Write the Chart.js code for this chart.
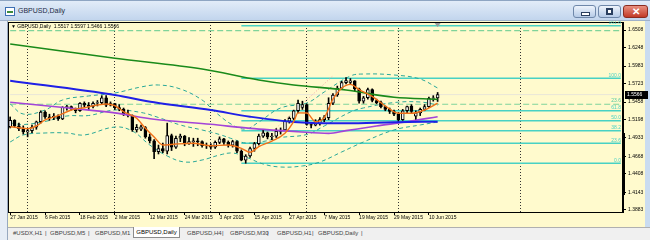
<!DOCTYPE html>
<html>
<head>
<meta charset="utf-8">
<title>GBPUSD,Daily</title>
<script src="https://cdn.jsdelivr.net/npm/chart.js@4.4.1/dist/chart.umd.min.js"></script>
<style>
  html, body { margin: 0; padding: 0; }
  body { width: 650px; height: 240px; overflow: hidden; position: relative; background: #d3dfee; font-family: "Liberation Sans", Arial, sans-serif; }
  .abs { position: absolute; }
  #left-strip  { left: 0; top: 21px; width: 7px; height: 219px; background: #e6edf6; border-right: 1px solid #98a9bf; }
  #pane        { left: 8px; top: 21px; width: 637px; height: 206px; background: #fffacd; }
  #right-strip { left: 645px; top: 21px; width: 5px; height: 219px; background: #cadcf0; }
  #scroll-mark { left: 623px; top: 133px; width: 2px; height: 62px; background: #000; z-index: 2; }
  canvas { position: absolute; left: 0; top: 0; z-index: 1; }

  #titlebar { left: 0; top: 0; width: 650px; height: 21px; box-sizing: border-box; z-index: 3;
              background: linear-gradient(#e2ecf8, #c2d5ed); border-top: 1px solid #8ea5c2; border-bottom: 1px solid #9fb2ca; }
  #titlebar .icon { left: 5px; top: 6px; width: 8px; height: 7px; background: #fff; border: 1px solid #3d6fb3; }
  #titlebar .icon::after { content: ""; position: absolute; left: 1px; top: 3px; width: 6px; height: 2px; background: #3d8c3d; }
  #titlebar .text { left: 18px; top: 6px; font-size: 7px; color: #1d2b45; }
  .btn { top: 4px; width: 23px; height: 13px; box-sizing: border-box; border: 1px solid #6f88aa; border-radius: 3px;
         background: linear-gradient(#eef4fc, #b6cbe7); }
  .btn.min { left: 573px; }
  .btn.max { left: 598px; }
  .btn.close { left: 623px; width: 25px; border-color: #8a2c20; background: linear-gradient(#e9907f, #c23a27); }
  .btn.min::after  { content: ""; position: absolute; left: 7px; top: 6px; width: 7px; height: 2px; background: #fff; border: 1px solid #2a3f5f; }
  .btn.max::after  { content: ""; position: absolute; left: 7px; top: 2px; width: 5px; height: 5px; border: 1px solid #2a3f5f; background: #fff; box-shadow: inset 0 0 0 1px #2a3f5f; }
  .btn.close::after { content: "\2715"; position: absolute; left: 8px; top: 0px; font-size: 10px; font-weight: bold; color: #fff; line-height: 11px; }

  #legend { left: 11px; top: 23px; font-size: 5px; color: #000; z-index: 2; white-space: pre; }

  #tabs { left: 8px; top: 227px; width: 642px; height: 13px; background: #f0f0f0; border-top: 1px solid #b0b0b0; box-sizing: border-box; }
  .tab { top: 230px; font-size: 6px; color: #444; white-space: nowrap; z-index: 2; }
  .tab.active { top: 227px; left: 133px; width: 47px; height: 11px; background: #fff; border: 1px solid #8c8c8c; border-top: none;
                box-sizing: border-box; text-align: center; line-height: 10px; color: #000; }
</style>
</head>
<body>
<div id="left-strip" class="abs"></div>
<div id="pane" class="abs"></div>
<div id="right-strip" class="abs"></div>
<div id="scroll-mark" class="abs"></div>
<canvas id="chart" width="650" height="226"></canvas>

<div id="titlebar" class="abs">
  <div class="icon abs"></div>
  <div class="text abs">GBPUSD,Daily</div>
  <div class="btn min abs"></div>
  <div class="btn max abs"></div>
  <div class="btn close abs"></div>
</div>
<div id="legend" class="abs">▼ GBPUSD,Daily  1.5517 1.5597 1.5466 1.5566</div>

<div id="tabs" class="abs"></div>
<div class="tab abs" style="left:13px">#USDX,H1</div>
<div class="tab abs" style="left:45px">|</div>
<div class="tab abs" style="left:50px">GBPUSD,M5</div>
<div class="tab abs" style="left:88px">|</div>
<div class="tab abs" style="left:95px">GBPUSD,M1</div>
<div class="tab active abs">GBPUSD,Daily</div>
<div class="tab abs" style="left:187px">GBPUSD,H4</div>
<div class="tab abs" style="left:222px">|</div>
<div class="tab abs" style="left:230px">GBPUSD,M30</div>
<div class="tab abs" style="left:267px">|</div>
<div class="tab abs" style="left:277px">GBPUSD,H1</div>
<div class="tab abs" style="left:312px">|</div>
<div class="tab abs" style="left:318px">GBPUSD,Daily</div>
<div class="tab abs" style="left:361px">|</div>

<script>
// ── Bars (daily, 2015) ─────────────────────────────────────
const dates = [
    '27 Jan', '28 Jan', '29 Jan', '30 Jan',
    '2 Feb', '3 Feb', '4 Feb', '5 Feb', '6 Feb', '9 Feb', '10 Feb', '11 Feb', '12 Feb', '13 Feb',
    '16 Feb', '17 Feb', '18 Feb', '19 Feb', '20 Feb', '23 Feb', '24 Feb', '25 Feb', '26 Feb', '27 Feb',
    '2 Mar', '3 Mar', '4 Mar', '5 Mar', '6 Mar', '9 Mar', '10 Mar', '11 Mar', '12 Mar', '13 Mar',
    '16 Mar', '17 Mar', '18 Mar', '19 Mar', '20 Mar', '23 Mar', '24 Mar', '25 Mar', '26 Mar', '27 Mar', '30 Mar', '31 Mar',
    '1 Apr', '2 Apr', '3 Apr', '6 Apr', '7 Apr', '8 Apr', '9 Apr', '10 Apr', '13 Apr', '14 Apr', '15 Apr',
    '16 Apr', '17 Apr', '20 Apr', '21 Apr', '22 Apr', '23 Apr', '24 Apr', '27 Apr', '28 Apr', '29 Apr', '30 Apr',
    '1 May', '4 May', '5 May', '6 May', '7 May', '8 May', '11 May', '12 May', '13 May', '14 May', '15 May',
    '18 May', '19 May', '20 May', '21 May', '22 May', '25 May', '26 May', '27 May', '28 May', '29 May',
    '1 Jun', '2 Jun', '3 Jun', '4 Jun', '5 Jun', '8 Jun', '9 Jun', '10 Jun', '11 Jun', '12 Jun',
];

const opens = [
    1.5100, 1.5190, 1.5110, 1.5070, 1.5020, 1.5040, 1.5090, 1.5170, 1.5310, 1.5240,
    1.5230, 1.5250, 1.5210, 1.5380, 1.5390, 1.5360, 1.5330, 1.5440, 1.5410, 1.5395,
    1.5440, 1.5450, 1.5520, 1.5410, 1.5435, 1.5375, 1.5355, 1.5285, 1.5265, 1.5050,
    1.5060, 1.5085, 1.4950, 1.4890, 1.4735, 1.4780, 1.4740, 1.4970, 1.4800, 1.4930,
    1.4960, 1.4860, 1.4880, 1.4890, 1.4880, 1.4820, 1.4830, 1.4800, 1.4870, 1.4920,
    1.4870, 1.4830, 1.4880, 1.4740, 1.4610, 1.4670, 1.4780, 1.4850, 1.4960, 1.5010,
    1.4950, 1.4960, 1.5030, 1.5050, 1.5180, 1.5220, 1.5330, 1.5380, 1.5420, 1.5130,
    1.5120, 1.5140, 1.5200, 1.5230, 1.5440, 1.5560, 1.5660, 1.5740, 1.5745, 1.5765,
    1.5650, 1.5470, 1.5520, 1.5640, 1.5480, 1.5450, 1.5390, 1.5350, 1.5320, 1.5280,
    1.5200, 1.5330, 1.5400, 1.5250, 1.5300, 1.5350, 1.5390, 1.5510, 1.5517,
];
const highs = [
    1.5240, 1.5200, 1.5150, 1.5110, 1.5060, 1.5120, 1.5180, 1.5330, 1.5330, 1.5280,
    1.5290, 1.5270, 1.5390, 1.5410, 1.5400, 1.5370, 1.5450, 1.5460, 1.5450, 1.5460,
    1.5480, 1.5550, 1.5550, 1.5460, 1.5440, 1.5420, 1.5370, 1.5340, 1.5270, 1.5130,
    1.5120, 1.5100, 1.4990, 1.4910, 1.4830, 1.4860, 1.5150, 1.4990, 1.4960, 1.4990,
    1.4970, 1.4940, 1.4930, 1.4930, 1.4890, 1.4860, 1.4850, 1.4890, 1.4950, 1.4930,
    1.4890, 1.4900, 1.4890, 1.4760, 1.4690, 1.4800, 1.4870, 1.4990, 1.5050, 1.5020,
    1.5000, 1.5070, 1.5080, 1.5200, 1.5240, 1.5340, 1.5485, 1.5470, 1.5430, 1.5160,
    1.5200, 1.5230, 1.5260, 1.5520, 1.5580, 1.5690, 1.5760, 1.5815, 1.5800, 1.5770,
    1.5660, 1.5540, 1.5660, 1.5650, 1.5500, 1.5470, 1.5400, 1.5370, 1.5340, 1.5300,
    1.5350, 1.5400, 1.5420, 1.5330, 1.5370, 1.5420, 1.5530, 1.5550, 1.5597,
];
const lows = [
    1.5080, 1.5090, 1.5040, 1.4990, 1.4950, 1.5010, 1.5060, 1.5150, 1.5220, 1.5190,
    1.5200, 1.5190, 1.5200, 1.5340, 1.5340, 1.5300, 1.5320, 1.5390, 1.5340, 1.5370,
    1.5400, 1.5430, 1.5390, 1.5400, 1.5350, 1.5330, 1.5260, 1.5240, 1.5030, 1.5020,
    1.5040, 1.4930, 1.4860, 1.4633, 1.4700, 1.4720, 1.4700, 1.4750, 1.4780, 1.4880,
    1.4820, 1.4840, 1.4810, 1.4820, 1.4800, 1.4780, 1.4770, 1.4780, 1.4850, 1.4840,
    1.4800, 1.4800, 1.4720, 1.4600, 1.4565, 1.4650, 1.4740, 1.4830, 1.4940, 1.4920,
    1.4910, 1.4940, 1.4990, 1.5040, 1.5150, 1.5200, 1.5300, 1.5350, 1.5120, 1.5080,
    1.5110, 1.5120, 1.5170, 1.5200, 1.5420, 1.5540, 1.5640, 1.5720, 1.5710, 1.5620,
    1.5440, 1.5440, 1.5500, 1.5460, 1.5430, 1.5370, 1.5330, 1.5290, 1.5260, 1.5170,
    1.5190, 1.5300, 1.5300, 1.5170, 1.5260, 1.5330, 1.5380, 1.5470, 1.5466,
];
const closes = [
    1.5190, 1.5110, 1.5070, 1.5020, 1.5040, 1.5090, 1.5170, 1.5310, 1.5240, 1.5230,
    1.5250, 1.5210, 1.5380, 1.5390, 1.5360, 1.5330, 1.5440, 1.5410, 1.5395, 1.5440,
    1.5450, 1.5520, 1.5410, 1.5435, 1.5375, 1.5355, 1.5285, 1.5265, 1.5050, 1.5090,
    1.5095, 1.4950, 1.4890, 1.4735, 1.4780, 1.4740, 1.4970, 1.4800, 1.4930, 1.4960,
    1.4860, 1.4880, 1.4890, 1.4880, 1.4820, 1.4830, 1.4800, 1.4870, 1.4920, 1.4870,
    1.4830, 1.4880, 1.4740, 1.4610, 1.4670, 1.4780, 1.4850, 1.4960, 1.5010, 1.4950,
    1.4960, 1.5030, 1.5050, 1.5180, 1.5220, 1.5330, 1.5440, 1.5420, 1.5130, 1.5120,
    1.5140, 1.5200, 1.5230, 1.5440, 1.5560, 1.5660, 1.5740, 1.5770, 1.5765, 1.5650,
    1.5470, 1.5520, 1.5640, 1.5480, 1.5450, 1.5390, 1.5350, 1.5320, 1.5280, 1.5200,
    1.5330, 1.5390, 1.5320, 1.5300, 1.5350, 1.5390, 1.5510, 1.5517, 1.5566,
];

// ── Axis bits ──────────────────────────────────────────────
const FUTURE_BARS = 42;
const tickIdx     = [0, 8, 16, 24, 32, 40, 48, 56, 64, 72, 80, 88, 96];
const monthIdx    = [4, 24, 46, 68, 89, 117];
const yTicks      = [1.6508, 1.6248, 1.5983, 1.5723, 1.5458, 1.5198, 1.4933, 1.4668, 1.4408, 1.4143, 1.3883];
const Y_MIN       = 1.38538;
const Y_MAX       = 1.66247;

// ── Indicators, read as [bar index, price] ─────────────────
const maSlow = [[0, 1.6304], [24, 1.6095], [44, 1.5939], [57, 1.5779], [65, 1.5706], [77, 1.5633], [88, 1.5527], [98, 1.5497]];
const maMid  = [[0, 1.5769], [24, 1.5560], [33, 1.5454], [46, 1.5340], [55, 1.5244], [66, 1.5162], [77, 1.5147], [88, 1.5162], [98, 1.5171]];
const maFast = [[0, 1.5454], [14, 1.5366], [24, 1.5300], [33, 1.5206], [46, 1.5133], [55, 1.5074], [66, 1.5025], [73, 1.5001],
                [77, 1.5040], [84, 1.5108], [91, 1.5171], [98, 1.5244]];
const emaShort = [[0, 1.5098], [2, 1.5083], [4, 1.5070], [6, 1.5108], [8, 1.5196], [11, 1.5258], [14, 1.5341], [17, 1.5375],
                  [20, 1.5414], [22, 1.5429], [24, 1.5404], [26, 1.5316], [29, 1.5220], [31, 1.5074], [33, 1.4947], [35, 1.4831],
                  [38, 1.4845], [42, 1.4856], [46, 1.4821], [50, 1.4831], [53, 1.4783], [55, 1.4725], [57, 1.4807], [60, 1.4889],
                  [63, 1.5002], [65, 1.5171], [66, 1.5300], [68, 1.5297], [70, 1.5171], [72, 1.5230], [74, 1.5500], [76, 1.5658],
                  [78, 1.5715], [80, 1.5640], [83, 1.5540], [86, 1.5400], [89, 1.5293], [92, 1.5293], [95, 1.5341], [98, 1.5440]];
const bbUpper = [[0, 1.5429], [3, 1.5283], [8, 1.5341], [12, 1.5487], [18, 1.5546], [24, 1.5589], [30, 1.5677], [34, 1.5706],
                 [39, 1.5648], [44, 1.5487], [47, 1.5312], [51, 1.5123], [54, 1.5064], [57, 1.5166], [62, 1.5371], [68, 1.5443],
                 [72, 1.5604], [78, 1.5837], [81, 1.5866], [88, 1.5852], [94, 1.5793], [98, 1.5662]];
const bbMiddle = [[0, 1.5152], [3, 1.5130], [8, 1.5174], [13, 1.5254], [18, 1.5261], [24, 1.5341], [30, 1.5305], [34, 1.5232],
                  [39, 1.5123], [44, 1.5050], [48, 1.4984], [51, 1.4919], [54, 1.4860], [58, 1.4882], [62, 1.4940], [68, 1.4984],
                  [72, 1.5108], [78, 1.5312], [81, 1.5371], [88, 1.5450], [94, 1.5458], [98, 1.5414]];
const bbLower = [[0, 1.4875], [3, 1.4977], [8, 1.5006], [13, 1.5006], [17, 1.4977], [24, 1.5093], [28, 1.5035], [32, 1.4831],
                 [36, 1.4671], [40, 1.4583], [44, 1.4612], [48, 1.4685], [51, 1.4714], [54, 1.4656], [58, 1.4554], [62, 1.4510],
                 [67, 1.4525], [71, 1.4583], [76, 1.4729], [81, 1.4875], [88, 1.5050], [94, 1.5123], [98, 1.5166]];

// ── Drawn objects ──────────────────────────────────────────
const fibStart   = 53;
const fibLevels  = ['0.0', '23.6', '38.2', '50.0', '61.8', '100.0', '161.8'];
const fibPrices  = [1.4564, 1.4857, 1.5038, 1.5184, 1.5330, 1.5804, 1.6570];
const fib2Levels = ['23.6', ''];
const fib2Prices = [1.5425, 1.6498];
const trendLine  = [[60, 1.5020], [74, 1.5840]];
const lastPrice  = 1.5566;

// ── Colours ────────────────────────────────────────────────
const FONT   = '"Liberation Sans", Arial, sans-serif';
const BULL   = '#f2f2f2';
const BEAR   = '#000000';
const FIB    = '#48d1c4';
const FIB2   = '#7fd39a';
const BANDS  = '#2aa898';

// ── Helpers ────────────────────────────────────────────────
const labels  = dates.concat(Array.from({ length: FUTURE_BARS }, (_, i) => 'next ' + (i + 1)));
const lastIdx = labels.length - 1;
const pts     = arr => arr.map(([i, v]) => ({ x: labels[i], y: v }));
const flat    = (i0, v) => [{ x: labels[i0], y: v }, { x: labels[lastIdx], y: v }];

const line = (data, color, width, order, extra = {}) => Object.assign({
    type: 'line', data, borderColor: color, borderWidth: width, pointRadius: 0,
    fill: false, order,
}, extra);

// ── Datasets ───────────────────────────────────────────────
const datasets = [
    line(flat(0, lastPrice), '#e9e6d8', 1, 30),
    ...fibPrices.map(p => line(flat(fibStart, p), FIB, 1.4, 20)),
    ...fib2Prices.map(p => line(flat(0, p), FIB2, 1.2, 21, { borderDash: [6, 3] })),
    line(pts(trendLine), '#f4a0a0', 1, 19, { borderDash: [1, 2] }),
    line(pts(bbUpper),  BANDS, 1, 15, { borderDash: [4, 3], tension: 0.4 }),
    line(pts(bbMiddle), BANDS, 1, 15, { borderDash: [4, 3], tension: 0.4 }),
    line(pts(bbLower),  BANDS, 1, 15, { borderDash: [4, 3], tension: 0.4 }),
    {
        type: 'bar', order: 7, grouped: false, barThickness: 1,
        data: lows.map((l, i) => [l, highs[i]]),
        backgroundColor: '#000',
    },
    {
        type: 'bar', order: 6, grouped: false, barThickness: 3,
        data: opens.map((o, i) => [o, closes[i]]),
        backgroundColor: closes.map((c, i) => c >= opens[i] ? BULL : BEAR),
        borderColor: '#000', borderWidth: 1, borderSkipped: false,
    },
    line(pts(maFast), '#a344d8', 1.6, 4, { cubicInterpolationMode: 'monotone' }),
    line(pts(maMid),  '#1f1fe6', 2,   3, { cubicInterpolationMode: 'monotone' }),
    line(pts(maSlow), '#1a8a1a', 1.6, 2, { cubicInterpolationMode: 'monotone' }),
    line(pts(emaShort), '#f07018', 1.4, 1, { cubicInterpolationMode: 'monotone' }),
];

// ── Frame, level labels, price box ─────────────────────────
const paneDecor = {
    id: 'paneDecor',
    afterDraw(chart) {
        const { ctx, chartArea: a, scales: { x, y } } = chart;
        ctx.save();
        ctx.strokeStyle = '#000';
        ctx.lineWidth   = 1;
        ctx.strokeRect(a.left + 0.5, a.top + 0.5, a.right - a.left - 1, a.bottom - a.top);

        ctx.font         = `5px ${FONT}`;
        ctx.textAlign    = 'right';
        ctx.textBaseline = 'bottom';
        ctx.fillStyle    = FIB;
        fibLevels.forEach((lv, i) => ctx.fillText(lv, a.right - 2, y.getPixelForValue(fibPrices[i]) - 0.5));
        ctx.fillStyle = '#52c9a0';
        fib2Levels.forEach((lv, i) => lv && ctx.fillText(lv, a.right - 2, y.getPixelForValue(fib2Prices[i]) - 1));

        const py = Math.round(y.getPixelForValue(lastPrice));
        ctx.fillStyle = '#000';
        ctx.fillRect(a.right + 2, py - 4, 23, 8);
        ctx.fillStyle    = '#fff';
        ctx.textAlign    = 'left';
        ctx.textBaseline = 'middle';
        ctx.fillText(lastPrice.toFixed(4), a.right + 4, py);

        const sx = x.getPixelForValue(closes.length - 1);
        ctx.fillStyle = '#9a9a9a';
        ctx.beginPath();
        ctx.moveTo(sx - 3, a.top + 1);
        ctx.lineTo(sx + 3, a.top + 1);
        ctx.lineTo(sx, a.top + 5);
        ctx.closePath();
        ctx.fill();
        ctx.restore();
    },
};

// ── Chart ──────────────────────────────────────────────────
new Chart(document.getElementById('chart'), {
    type: 'bar',
    data: { labels, datasets },
    options: {
        responsive: false,
        animation: false,
        devicePixelRatio: 1,
        layout: { padding: { left: 8, top: 22, right: 0, bottom: 0 } },
        plugins: { legend: { display: false }, tooltip: { enabled: false } },
        scales: {
            x: {
                type: 'category',
                offset: true,
                afterFit: s => { s.height = 14; },
                grid: {
                    offset: false,
                    lineWidth: 1,
                    color: c => monthIdx.includes(c.index) ? '#333' : 'rgba(0,0,0,0)',
                    drawTicks: true,
                    tickLength: 3,
                    tickColor: c => tickIdx.includes(c.index) ? '#000' : 'rgba(0,0,0,0)',
                    tickBorderDash: [],
                },
                border: { color: '#000', dash: [1, 2] },
                ticks: {
                    autoSkip: false, maxRotation: 0, minRotation: 0, align: 'start', padding: 0,
                    color: '#000', font: { family: FONT, size: 5 },
                    callback: (v, i) => tickIdx.includes(i) ? dates[i] + ' 2015' : '',
                },
            },
            y: {
                type: 'linear',
                position: 'right',
                min: Y_MIN,
                max: Y_MAX,
                afterBuildTicks: s => { s.ticks = yTicks.map(v => ({ value: v })); },
                afterFit: s => { s.width = 27; },
                grid: { drawOnChartArea: false, drawTicks: true, tickLength: 3, tickColor: '#000' },
                border: { color: '#000' },
                ticks: {
                    padding: 2, color: '#000', font: { family: FONT, size: 5 },
                    callback: v => v.toFixed(4),
                },
            },
        },
    },
    plugins: [paneDecor],
});
</script>
</body>
</html>
